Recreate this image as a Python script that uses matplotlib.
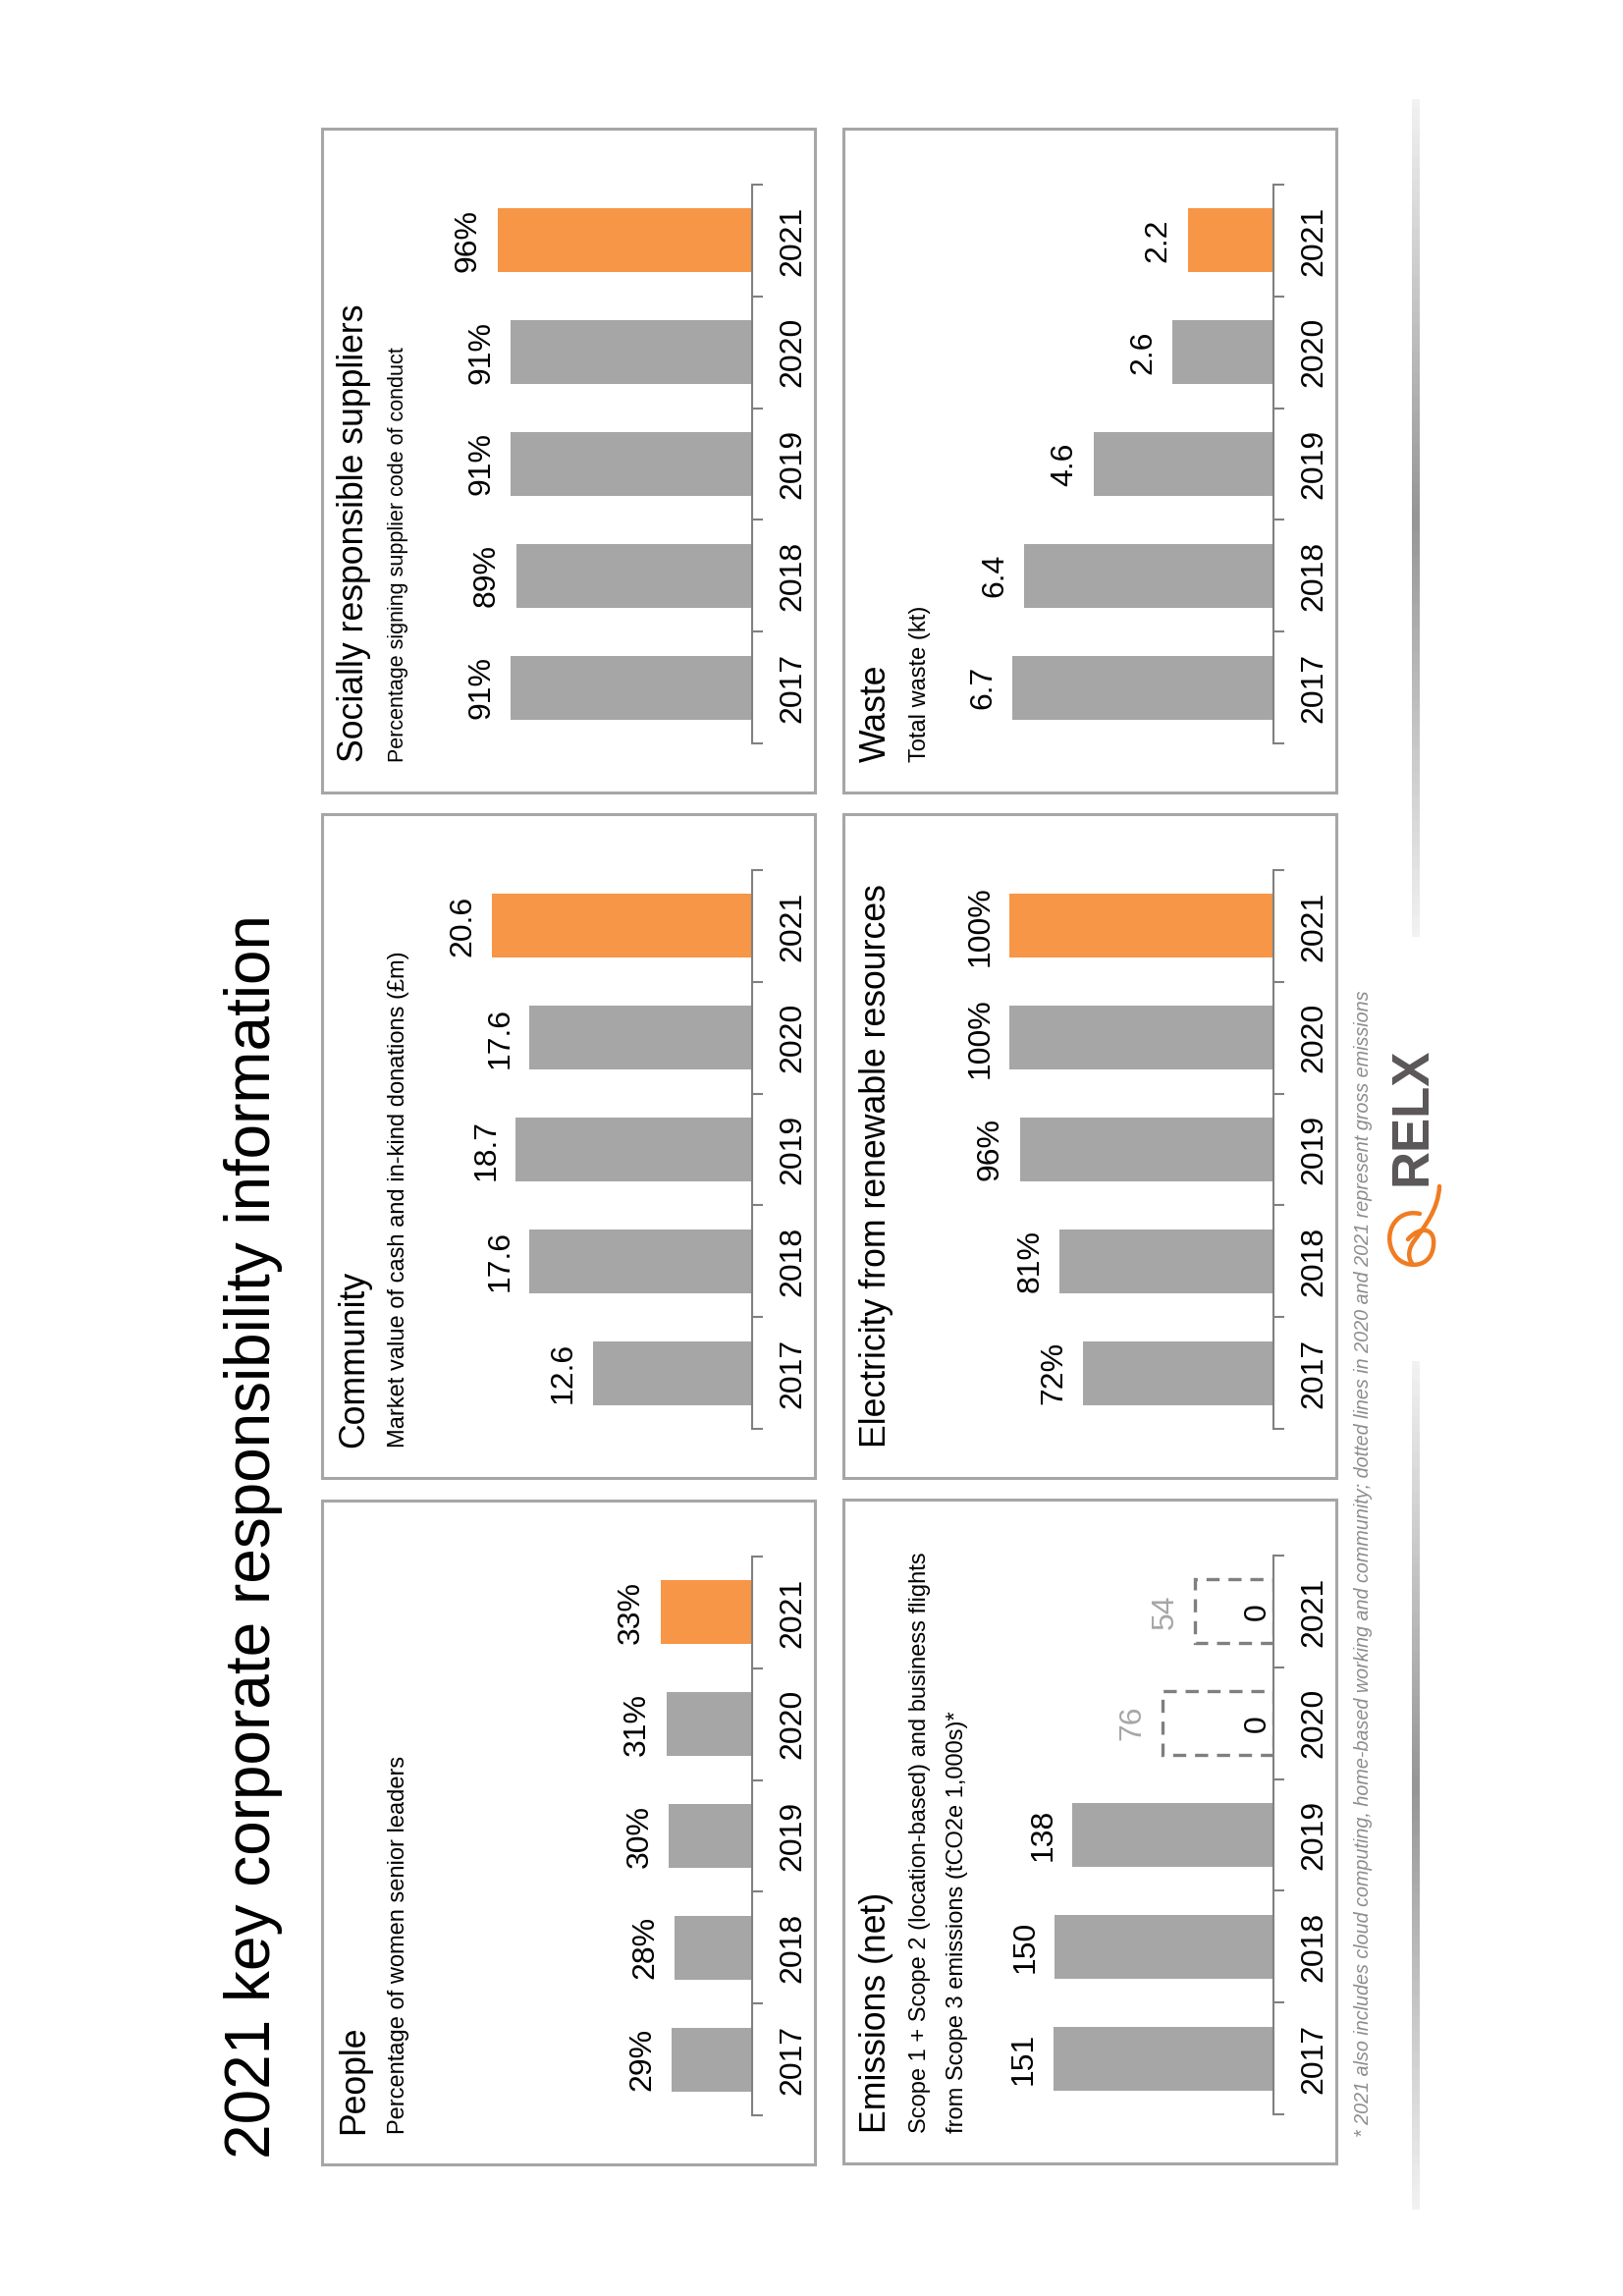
import numpy as np
import matplotlib
matplotlib.use('Agg')
import matplotlib.pyplot as plt
from matplotlib.patches import Rectangle, PathPatch
from matplotlib.path import Path
from matplotlib.colors import LinearSegmentedColormap

plt.rcParams['font.family'] = ['Liberation Sans', 'DejaVu Sans']

W, H = 1653, 2338
GREY = '#a6a6a6'
ORANGE = '#f79646'
AXIS = '#808080'

years = ['2017', '2018', '2019', '2020', '2021']

people = [29, 28, 30, 31, 33]
community = [12.6, 17.6, 18.7, 17.6, 20.6]
suppliers = [91, 89, 91, 91, 96]
emissions_net = [151, 150, 138, 0, 0]
emissions_gross = [0, 0, 0, 76, 54]   # dashed boxes, 2020 and 2021 only
electricity = [72, 81, 96, 100, 100]
waste = [6.7, 6.4, 4.6, 2.6, 2.2]

LABEL_FS = 23
TITLE_FS = 25.7

fig = plt.figure(figsize=(W / 100, H / 100), dpi=100)


def fx(x):
    return x / W


def fy(y):
    return 1 - y / H


def frac(l, t, r, b):
    return [l / W, 1 - b / H, (r - l) / W, (b - t) / H]


def panel(left, top, title, subtitle, values, fmt, ppu, sub_fs=17):
    bottom = top + 676
    fig.patches.append(Rectangle((fx(left), fy(bottom)), 502 / W, 676 / H,
                                 transform=fig.transFigure, fill=False,
                                 edgecolor=GREY, linewidth=2.2))
    base = left + 438
    ax_l = left + 20
    ax = fig.add_axes(frac(ax_l, top + 57, base, bottom - 50))
    ax.set_xlim((base - ax_l) / ppu, 0)
    ax.set_ylim(-0.5, 4.5)
    colors = [GREY] * 4 + [ORANGE]
    ax.barh(range(5), values, height=0.57, color=colors)
    for i, v in enumerate(values):
        if v > 0:
            ax.annotate(fmt.format(v), (v, i), xytext=(-21.5, 0),
                        textcoords='offset points', rotation=90,
                        ha='center', va='center', fontsize=LABEL_FS)
    for s in ['left', 'top', 'bottom']:
        ax.spines[s].set_visible(False)
    ax.spines['right'].set_color(AXIS)
    ax.spines['right'].set_linewidth(1.5)
    ax.set_xticks([])
    ax.yaxis.tick_right()
    ax.set_yticks(range(5))
    ax.set_yticklabels(years)
    ax.set_yticks(np.arange(-0.5, 5, 1), minor=True)
    ax.tick_params(axis='y', which='major', length=0, pad=19,
                   labelsize=LABEL_FS, labelrotation=90)
    ax.tick_params(axis='y', which='minor', length=8, width=1.5, color=AXIS,
                   direction='out')
    for lab in ax.get_yticklabels():
        lab.set_va('center')
    ax.patch.set_visible(False)

    fig.text(fx(left + 33), fy(bottom - 31), title, rotation=90,
             ha='center', va='bottom', fontsize=TITLE_FS)
    for k, line in enumerate(subtitle):
        fig.text(fx(left + 78 + 38 * k), fy(bottom - 31), line, rotation=90,
                 ha='center', va='bottom', fontsize=sub_fs)
    return ax


panel(328, 1528, 'People', ['Percentage of women senior leaders'],
      people, '{:.0f}%', 2.82)
panel(328, 829, 'Community', ['Market value of cash and in-kind donations (£m)'],
      community, '{:.1f}', 12.87)
panel(328, 131, 'Socially responsible suppliers',
      ['Percentage signing supplier code of conduct'],
      suppliers, '{:.0f}%', 2.70, sub_fs=15.5)
ax_em = panel(859, 1527, 'Emissions (net)',
              ['Scope 1 + Scope 2 (location-based) and business flights',
               'from Scope 3 emissions (tCO2e 1,000s)*'],
              emissions_net, '{:.0f}', 1.485)
panel(859, 829, 'Electricity from renewable resources', [],
      electricity, '{:.0f}%', 2.69)
panel(859, 131, 'Waste', ['Total waste (kt)'], waste, '{:.1f}', 39.7)

# gross emissions as dashed outlines, net zero labels inside
for i, g in enumerate(emissions_gross):
    if g > 0:
        ax_em.barh(i, g, height=0.57, fill=False, edgecolor='#7f7f7f',
                   linewidth=2.4, linestyle=(0, (4, 2.7)))
        ax_em.annotate('{:.0f}'.format(g), (g, i), xytext=(-22, 0),
                       textcoords='offset points', rotation=90,
                       ha='center', va='center', fontsize=LABEL_FS, color=GREY)
        ax_em.annotate('{:.0f}'.format(emissions_net[i]), (0, i),
                       xytext=(-12, 0), textcoords='offset points',
                       rotation=90, ha='center', va='center', fontsize=LABEL_FS)

fig.text(fx(258), fy(2198), '2021 key corporate responsibility information',
         rotation=90, ha='center', va='bottom', fontsize=46)

fig.text(fx(1389), fy(2176),
         '* 2021 also includes cloud computing, home-based working and community; '
         'dotted lines in 2020 and 2021 represent gross emissions',
         rotation=90, ha='center', va='bottom', fontsize=14.2, style='italic',
         color='#8c8c8c')

# logo
fig.text(fx(1439), fy(1207), 'RELX', rotation=90, ha='center', va='bottom',
         fontsize=38, fontweight='bold', color='#5b5657')
swirl_px = [(1466, 1208), (1465, 1232), (1450, 1250), (1440, 1264),
            (1432, 1275), (1436, 1284), (1438, 1286),
            (1446, 1236), (1420, 1230), (1406, 1260), (1422, 1280),
            (1432, 1292), (1458, 1292), (1460, 1268),
            (1462, 1250), (1446, 1248), (1434, 1262)]
codes = ([Path.MOVETO] + [Path.CURVE4] * 6 +
         [Path.MOVETO] + [Path.CURVE4] * 9)
swirl = Path([(fx(x), fy(y)) for x, y in swirl_px], codes)
fig.patches.append(PathPatch(swirl, transform=fig.transFigure, fill=False,
                             edgecolor='#f07c22', linewidth=3.2,
                             capstyle='round'))

# gradient rules on the right
cmap = LinearSegmentedColormap.from_list('rule', ['#f2f2f2', '#959595', '#f2f2f2'])
for t, b in [(101, 954), (1386, 2250)]:
    gax = fig.add_axes(frac(1438, t, 1446, b))
    gax.imshow(np.linspace(0, 1, 256)[:, None], aspect='auto', cmap=cmap)
    gax.axis('off')

fig.savefig('out.png', dpi=100)
